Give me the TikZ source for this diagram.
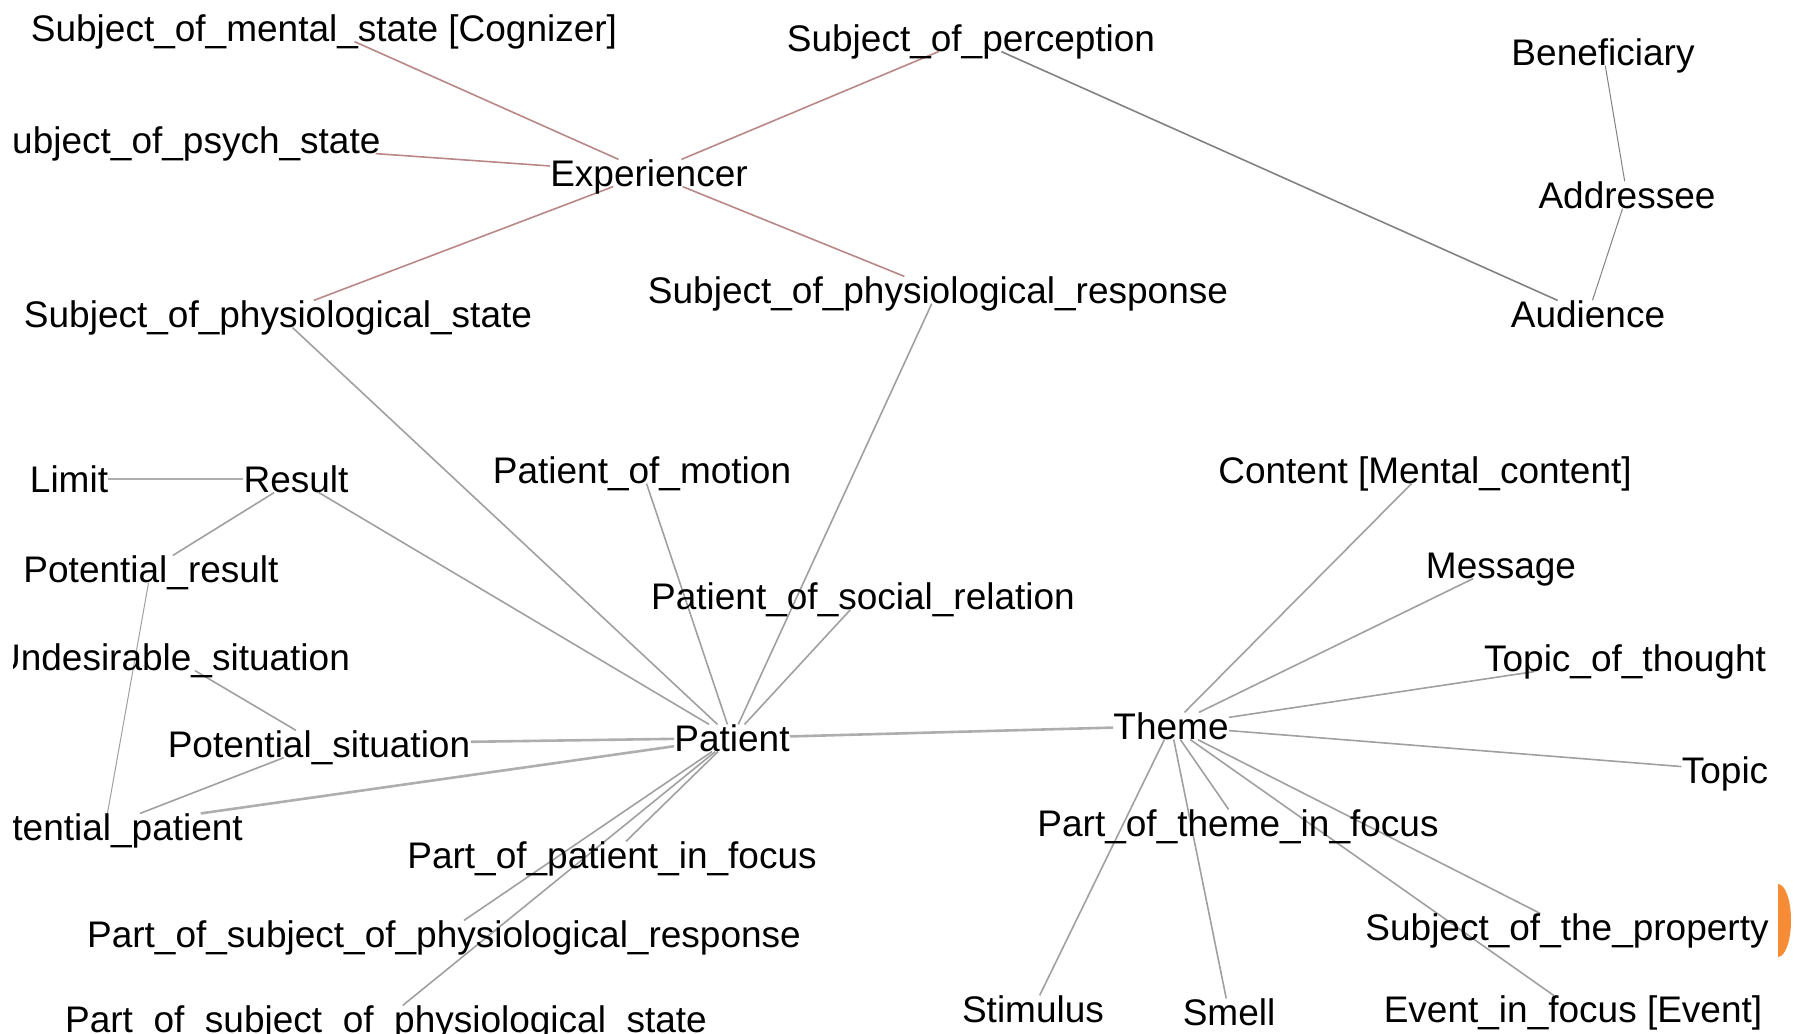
\documentclass[tikz,border=0pt]{standalone}
\usepackage{fontspec}
\setmainfont{Liberation Sans}
\usepackage{tikz}
\usetikzlibrary{backgrounds}
\definecolor{edgegray}{RGB}{160,160,160}
\definecolor{edgedark}{RGB}{130,130,130}
\definecolor{edgered}{RGB}{185,135,135}
\definecolor{slideorange}{RGB}{247,140,55}
\tikzset{
    lbl/.style={inner sep=0pt, text height=13.2pt, text depth=0pt, font=\fontsize{18.5}{20}\selectfont},
    edge/.style={draw=edgegray, line width=0.8pt},
    thinedge/.style={draw=edgedark, line width=0.5pt},
    heavyedge/.style={draw=edgegray!85, line width=1.3pt},
    redge/.style={draw=edgered, line width=0.8pt}}

\begin{document}
\begin{tikzpicture}[x=0.5pt,y=-0.5pt]
\useasboundingbox (0,0) rectangle (1795,1034);
\clip (13,0) rectangle (1795,1034);
\node[lbl] (Mental) at (324,28) {Subject\_of\_mental\_state [Cognizer]};
\node[lbl] (Psych) at (184,140) {Subject\_of\_psych\_state};
\node[lbl] (Exper) at (649,173) {Experiencer};
\node[lbl] (Perc) at (971,38) {Subject\_of\_perception};
\node[lbl] (PhysState) at (278,314) {Subject\_of\_physiological\_state};
\node[lbl] (PhysResp) at (938,290) {Subject\_of\_physiological\_response};
\node[lbl] (Benef) at (1603,52) {Beneficiary};
\node[lbl] (Addr) at (1627,195) {Addressee};
\node[lbl] (Aud) at (1588,314) {Audience};
\node[lbl] (Limit) at (69,479) {Limit};
\node[lbl] (Result) at (296,479) {Result};
\node[lbl] (PotRes) at (151,569) {Potential\_result};
\node[lbl] (Undes) at (172,657) {Undesirable\_situation};
\node[lbl] (PotSit) at (319,744) {Potential\_situation};
\node[lbl] (PotPat) at (105,827) {Potential\_patient};
\node[lbl] (Patient) at (732,738) {Patient};
\node[lbl] (Motion) at (642,470) {Patient\_of\_motion};
\node[lbl] (Social) at (863,596) {Patient\_of\_social\_relation};
\node[lbl] (PartPat) at (612,855) {Part\_of\_patient\_in\_focus};
\node[lbl] (PartResp) at (444,934) {Part\_of\_subject\_of\_physiological\_response};
\node[lbl] (PartState) at (386,1019) {Part\_of\_subject\_of\_physiological\_state};
\node[lbl] (Theme) at (1171,726) {Theme};
\node[lbl] (Content) at (1425,470) {Content [Mental\_content]};
\node[lbl] (Message) at (1501,565) {Message};
\node[lbl] (TopThought) at (1625,658) {Topic\_of\_thought};
\node[lbl] (Topic) at (1725,770) {Topic};
\node[lbl] (PartTheme) at (1238,823) {Part\_of\_theme\_in\_focus};
\node[lbl] (SubjProp) at (1567,927) {Subject\_of\_the\_property};
\node[lbl] (Stim) at (1033,1009) {Stimulus};
\node[lbl] (Smell) at (1229,1012) {Smell};
\node[lbl] (Event) at (1573,1009) {Event\_in\_focus [Event]};
\begin{pgfonlayer}{background}
\draw[redge] (Exper) -- (Mental);
\draw[redge] (Exper) -- (Psych);
\draw[redge] (Exper) -- (PhysState);
\draw[redge] (Exper) -- (Perc);
\draw[redge] (Exper) -- (PhysResp);
\draw[edge, draw=edgedark] (Perc) -- (Aud);
\draw[thinedge] (Benef) -- (Addr) -- (Aud);
\draw[edge] (PhysState) -- (Patient);
\draw[edge] (PhysResp) -- (Patient);
\draw[heavyedge] (Limit) -- (Result);
\draw[edge] (Result) -- (PotRes);
\draw[edge] (Result) -- (Patient);
\draw[thinedge, draw=edgegray] (PotRes) -- (PotPat);
\draw[edge] (Undes) -- (PotSit);
\draw[edge] (PotSit) -- (PotPat);
\draw[heavyedge] (PotSit) -- (Patient);
\draw[heavyedge] (PotPat) -- (Patient);
\draw[edge] (Motion) -- (Patient);
\draw[edge] (Social) -- (Patient);
\draw[edge] (PartPat) -- (Patient);
\draw[edge] (PartResp) -- (Patient);
\draw[edge] (PartState) -- (Patient);
\draw[heavyedge] (Patient) -- (Theme);
\foreach \t in {Content,Message,TopThought,Topic,PartTheme,SubjProp,Stim,Smell,Event}
  \draw[edge] (Theme) -- (\t);
\end{pgfonlayer}
\fill[slideorange] (1778,884) arc[start angle=-90, end angle=90, x radius=13, y radius=36.5] -- cycle;
\end{tikzpicture}
\end{document}
